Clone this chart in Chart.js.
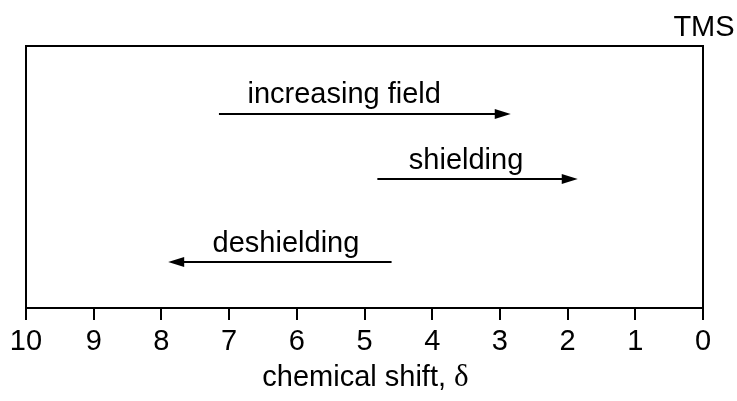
<!DOCTYPE html>
<html>
<head>
<meta charset="utf-8">
<script src="https://cdn.jsdelivr.net/npm/chart.js@4"></script>
<style>
  html, body { margin: 0; padding: 0; background: #ffffff; }
  #wrap { width: 737px; height: 401px; }
</style>
</head>
<body>
<div id="wrap"><canvas id="c" width="737" height="401"></canvas></div>
<script>
// ---- data ----
const tickValues = [10, 9, 8, 7, 6, 5, 4, 3, 2, 1, 0];
const arrowLabels = ['increasing field', 'shielding', 'deshielding'];
const arrowStart = [7.15, 4.81, 4.60];
const arrowEnd = [2.84, 1.85, 7.90];
const arrowLevel = [0.740, 0.492, 0.176];
const labelCenter = [5.30, 3.50, 6.16];
const labelLevel = [0.782, 0.531, 0.214];
const refLabel = 'TMS';
const refValue = 0;
const refLevel = 1.038;
const axisTitle = 'chemical shift, ';
const axisSymbol = 'δ';

const SANS = '"Liberation Sans", Arial, Helvetica, sans-serif';
const SERIF = '"Liberation Serif", "Times New Roman", serif';

const datasets = arrowLabels.map((lab, i) => ({
  label: lab,
  data: [{x: arrowStart[i], y: arrowLevel[i]}, {x: arrowEnd[i], y: arrowLevel[i]}],
  borderColor: '#000',
  borderWidth: 0,
  pointRadius: 0,
  showLine: false
}));

const annotate = {
  id: 'annotate',
  afterDraw(chart) {
    const {ctx, chartArea: a, scales: {x, y}} = chart;
    ctx.save();
    // frame (top, left, right)
    ctx.strokeStyle = '#000';
    ctx.lineWidth = 2;
    ctx.beginPath();
    ctx.moveTo(a.left, a.bottom);
    ctx.lineTo(a.left, a.top);
    ctx.lineTo(a.right, a.top);
    ctx.lineTo(a.right, a.bottom);
    ctx.stroke();

    // arrows
    const headLen = 16, headHalf = 5;
    for (let i = 0; i < arrowLabels.length; i++) {
      const x0 = x.getPixelForValue(arrowStart[i]);
      const x1 = x.getPixelForValue(arrowEnd[i]);
      const py = y.getPixelForValue(arrowLevel[i]);
      const dir = Math.sign(x1 - x0);
      ctx.beginPath();
      ctx.lineWidth = 2;
      ctx.moveTo(x0, py);
      ctx.lineTo(x1 - dir * (headLen - 2), py);
      ctx.stroke();
      ctx.beginPath();
      ctx.fillStyle = '#000';
      ctx.moveTo(x1, py);
      ctx.lineTo(x1 - dir * headLen, py - headHalf);
      ctx.lineTo(x1 - dir * headLen, py + headHalf);
      ctx.closePath();
      ctx.fill();
      // label
      ctx.font = '29px ' + SANS;
      ctx.textAlign = 'center';
      ctx.textBaseline = 'alphabetic';
      ctx.fillText(arrowLabels[i], x.getPixelForValue(labelCenter[i]), y.getPixelForValue(labelLevel[i]));
    }
    // TMS
    ctx.font = '29px ' + SANS;
    ctx.textAlign = 'center';
    ctx.fillText(refLabel, x.getPixelForValue(refValue) + 1, y.getPixelForValue(refLevel));

    // axis title with serif delta
    ctx.font = '29px ' + SANS;
    const w1 = ctx.measureText(axisTitle).width;
    ctx.font = '31px ' + SERIF;
    const w2 = ctx.measureText(axisSymbol).width;
    const cx = (a.left + a.right) / 2;
    const startX = cx - (w1 + w2) / 2 + 1;
    const baseY = 386;
    ctx.textAlign = 'left';
    ctx.font = '29px ' + SANS;
    ctx.fillText(axisTitle, startX, baseY);
    ctx.font = '31px ' + SERIF;
    ctx.fillText(axisSymbol, startX + w1, baseY);
    ctx.restore();
  }
};

new Chart(document.getElementById('c'), {
  type: 'scatter',
  data: { datasets },
  options: {
    responsive: false,
    animation: false,
    layout: { padding: { left: 26, right: 34, top: 46, bottom: 0 } },
    plugins: { legend: { display: false }, tooltip: { enabled: false } },
    scales: {
      x: {
        type: 'linear',
        min: 0, max: 10,
        reverse: true,
        afterFit(scale) { scale.height = 93; },
        afterBuildTicks(scale) { scale.ticks = tickValues.map(v => ({value: v})); },
        ticks: {
          stepSize: 1,
          color: '#000',
          padding: 5,
          font: { size: 29, family: SANS },
          maxRotation: 0,
          autoSkip: false,
          callback: v => String(v)
        },
        grid: { drawOnChartArea: false, drawTicks: true, tickLength: 12, color: '#000', lineWidth: 2 },
        border: { display: true, color: '#000', width: 2 }
      },
      y: { display: false, min: 0, max: 1 }
    }
  },
  plugins: [annotate]
});
</script>
</body>
</html>
